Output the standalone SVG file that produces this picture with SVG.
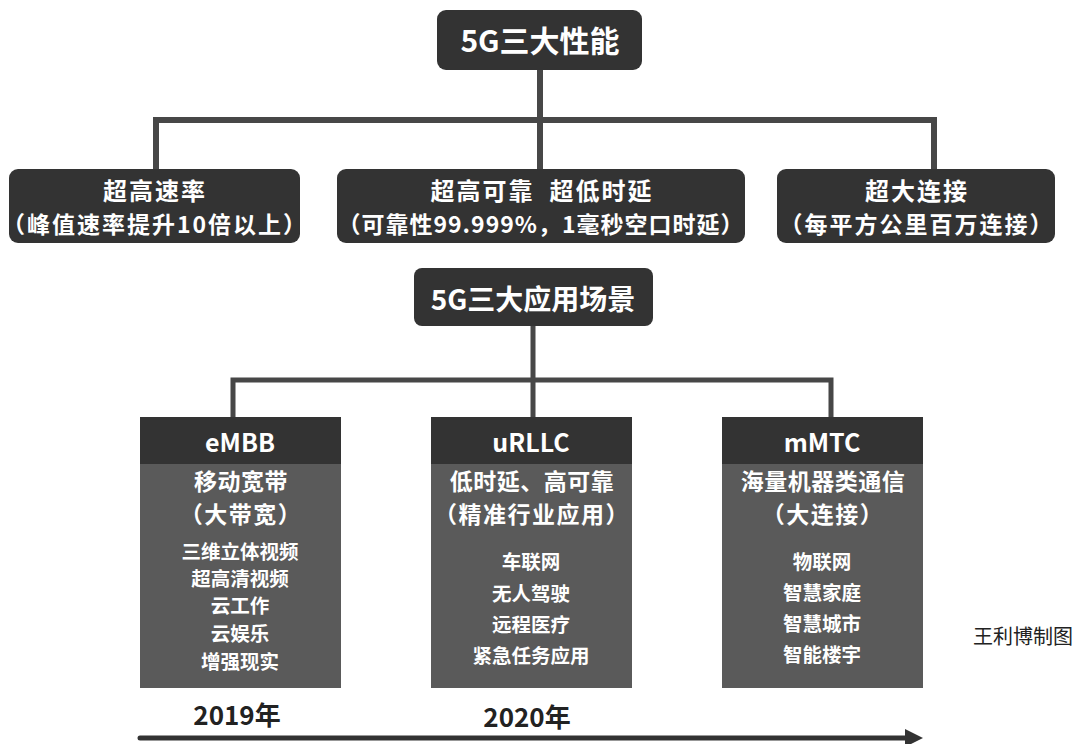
<svg xmlns="http://www.w3.org/2000/svg" width="1076" height="744" viewBox="0 0 1076 744">
<style>
.t{font-family:"Noto Sans CJK SC","Noto Sans",sans-serif;text-anchor:middle}
.w{fill:#ffffff;font-weight:bold}
.box{fill:#333333}
.hd{fill:#333333}
.bd{fill:#5a5a5a}
.ln{stroke:#474747;fill:none;stroke-linejoin:miter}
.l1{font-size:24px;letter-spacing:2px}
.l2{font-size:23px;letter-spacing:2px}
.h1{font-size:23px;letter-spacing:0.5px}
.h2{font-size:23px;letter-spacing:1.5px}
.it{font-size:19.5px}
</style>
<rect width="1076" height="744" fill="#ffffff"/>
<g id="connectors">
<path class="ln" stroke-width="6" d="M540,70 V120 M156,172 V120 H934 V172 M540,120 V172"/>
<path class="ln" stroke-width="5" d="M533,326 V380 M233,420 V380 H831 V420 M533,380 V420"/>
<line x1="140" y1="738" x2="906" y2="738" stroke="#333333" stroke-width="5" stroke-linecap="round"/>
<polygon points="905,729 923,738 905,747" fill="#333333"/>
</g>
<g id="perf-title">
<rect class="box" x="437" y="10" width="205" height="60" rx="9"/>
<text class="t w" x="540" y="52" font-size="30">5G三大性能</text>
</g>
<g id="perf-speed">
<rect class="box" x="9" y="169" width="291" height="74" rx="9"/>
<text class="t w l1" x="155" y="200">超高速率</text>
<text class="t w l2" x="155" y="233">（峰值速率提升10倍以上）</text>
</g>
<g id="perf-reliable">
<rect class="box" x="337" y="169" width="408" height="74" rx="9"/>
<text class="t w l1" x="542" y="200" xml:space="preserve">超高可靠  超低时延</text>
<text class="t w" x="541" y="233" font-size="23" letter-spacing="1">（可靠性99.999%，1毫秒空口时延）</text>
</g>
<g id="perf-connect">
<rect class="box" x="777" y="169" width="278" height="74" rx="9"/>
<text class="t w l1" x="917" y="200">超大连接</text>
<text class="t w l2" x="917" y="233" letter-spacing="2.5">（每平方公里百万连接）</text>
</g>
<g id="scene-title">
<rect class="box" x="414" y="268" width="239" height="58" rx="8"/>
<text class="t w" x="533" y="310" font-size="28">5G三大应用场景</text>
</g>
<g id="embb">
<rect class="hd" x="140" y="417" width="201" height="47"/>
<rect class="bd" x="140" y="464" width="201" height="224"/>
<text class="t w" x="240" y="452" font-size="25">eMBB</text>
<text class="t w h1" x="241" y="490">移动宽带</text>
<text class="t w h2" x="241" y="523">（大带宽）</text>
<text class="t w it" x="240" y="559">三维立体视频</text>
<text class="t w it" x="240" y="586">超高清视频</text>
<text class="t w it" x="240" y="613">云工作</text>
<text class="t w it" x="240" y="641">云娱乐</text>
<text class="t w it" x="240" y="669">增强现实</text>
</g>
<g id="urllc">
<rect class="hd" x="431" y="417" width="201" height="47"/>
<rect class="bd" x="431" y="464" width="201" height="224"/>
<text class="t w" x="531" y="452" font-size="25">uRLLC</text>
<text class="t w h1" x="532" y="490">低时延、高可靠</text>
<text class="t w h2" x="532" y="523" letter-spacing="1">（精准行业应用）</text>
<text class="t w it" x="531" y="569">车联网</text>
<text class="t w it" x="531" y="601">无人驾驶</text>
<text class="t w it" x="531" y="632">远程医疗</text>
<text class="t w it" x="531" y="663">紧急任务应用</text>
</g>
<g id="mmtc">
<rect class="hd" x="722" y="417" width="201" height="47"/>
<rect class="bd" x="722" y="464" width="201" height="224"/>
<text class="t w" x="822" y="452" font-size="25">mMTC</text>
<text class="t w h1" x="823" y="490">海量机器类通信</text>
<text class="t w h2" x="823" y="523">（大连接）</text>
<text class="t w it" x="822" y="569">物联网</text>
<text class="t w it" x="822" y="600">智慧家庭</text>
<text class="t w it" x="822" y="631">智慧城市</text>
<text class="t w it" x="822" y="662">智能楼宇</text>
</g>
<g id="years">
<text class="t" x="237" y="725" font-size="26" font-weight="bold" fill="#222222">2019年</text>
<text class="t" x="527" y="727" font-size="26" font-weight="bold" fill="#222222">2020年</text>
</g>
<g id="credit">
<text class="t" x="1023" y="644" font-size="20" fill="#222222">王利博制图</text>
</g>
</svg>
